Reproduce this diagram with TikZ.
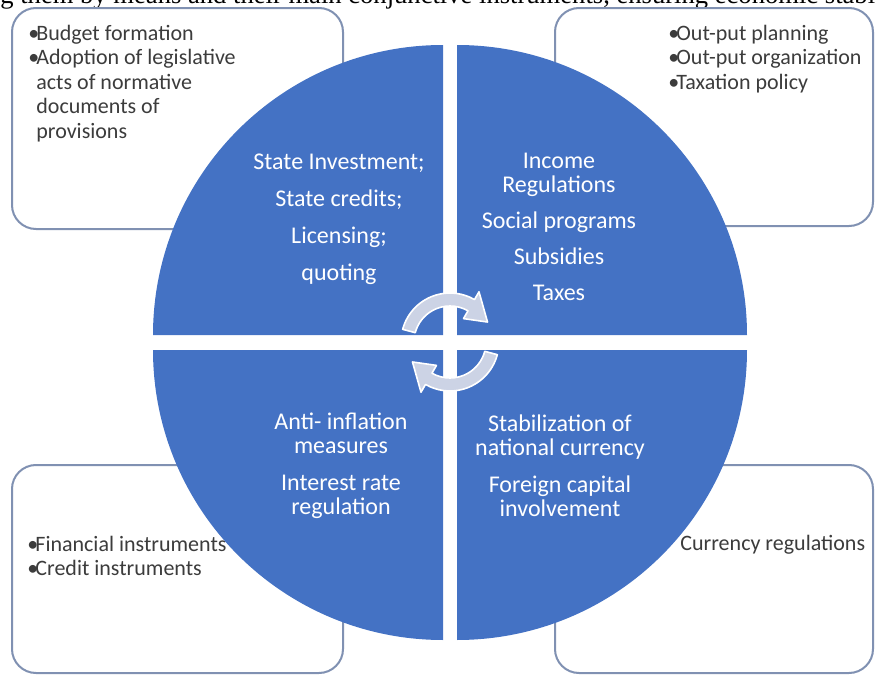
\documentclass[tikz,border=0pt]{standalone}
\usepackage{fontspec}
\setmainfont{Carlito}
\newfontfamily\pageserif{Liberation Serif}
\usetikzlibrary{positioning}

\definecolor{quadblue}{RGB}{68,114,196}
\definecolor{panelline}{RGB}{128,145,178}
\definecolor{cyclefill}{RGB}{204,211,229}
\definecolor{notegray}{RGB}{60,60,60}

% one bullet point, its lines hang under the first word
\newcommand{\bpoint}[1]{\makebox[4pt][l]{\textbullet}\begin{tabular}[t]{@{}l@{}}#1\end{tabular}}

\begin{document}
\begin{tikzpicture}[x=0.5pt, y=0.5pt,
  panel/.style={draw=panelline, line width=1pt, rounded corners=12pt, fill=white},
  quarter/.style={fill=quadblue},
  quadtext/.style={text=white, font=\fontsize{12}{12}\selectfont, align=center, inner sep=0pt},
  note/.style={text=notegray, font=\fontsize{11}{12.2}\selectfont, anchor=north west, inner sep=0pt, align=left},
  cyclearrow/.style={fill=cyclefill, draw=white, line width=0.8pt, line join=round}]

  \useasboundingbox (0,0) rectangle (875,677);

  % cut line of the page text above
  \node (pageline) [anchor=base west, inner sep=0pt, font=\pageserif\fontsize{13.3}{15}\selectfont] at (0,674)
    {g them by means and their main conjunctive instruments, ensuring economic stabil};

  % Panels
  \draw [panel] (12,448) rectangle (343,669);
  \draw [panel] (555,451) rectangle (873,669);
  \draw [panel] (12,4) rectangle (343,212);
  \draw [panel] (555,4) rectangle (873,212);

  \node (budget) [note] at (28,654) {\bpoint{Budget formation}\\ \bpoint{Adoption of legislative\\ acts of normative\\ documents of\\ provisions}};
  \node (output) [note] at (668,654) {\bpoint{Out-put planning}\\ \bpoint{Out-put organization}\\ \bpoint{Taxation policy}};
  \node (instruments) [note] at (27,143) {\bpoint{Financial instruments}\\ \bpoint{Credit instruments}};
  \node (currencyreg) [note] at (680,142) {Currency regulations};

  % Quarters of the circle
  \fill [quarter] (443,342) -- ++(-290,0) arc[start angle=180, end angle=90, radius=290] -- cycle;
  \fill [quarter] (457,342) -- ++(0,290) arc[start angle=90, end angle=0, radius=290] -- cycle;
  \fill [quarter] (457,327) -- ++(290,0) arc[start angle=0, end angle=-90, radius=290] -- cycle;
  \fill [quarter] (443,327) -- ++(0,-290) arc[start angle=270, end angle=180, radius=290] -- cycle;

  % Nodes
  \node (invest) [quadtext] at (339,458) {State Investment;\\[6.5pt] State credits;\\[6.5pt] Licensing;\\[6.5pt] quoting};
  \node (income) [quadtext] at (559,450) {Income\\ Regulations\\[6pt] Social programs\\[6pt] Subsidies\\[6pt] Taxes};
  \node (inflation) [quadtext] at (341,211) {Anti- inflation\\ measures\\[6.5pt] Interest rate\\ regulation};
  \node (currency) [quadtext] at (560,211) {Stabilization of\\ national currency\\[6.5pt] Foreign capital\\ involvement};

  % Arrows
  \begin{scope}[shift={(450,335)}]
    \draw [cyclearrow] (165:49) arc[start angle=165, end angle=60, radius=49] -- (60:58) -- (28:42.5)
      -- (60:27) -- (60:36) arc[start angle=60, end angle=165, radius=36] -- cycle;
    \draw [cyclearrow] (-15:49) arc[start angle=-15, end angle=-120, radius=49] -- (-120:58) -- (-152:42.5)
      -- (-120:27) -- (-120:36) arc[start angle=-120, end angle=-15, radius=36] -- cycle;
  \end{scope}

\end{tikzpicture}
\end{document}
